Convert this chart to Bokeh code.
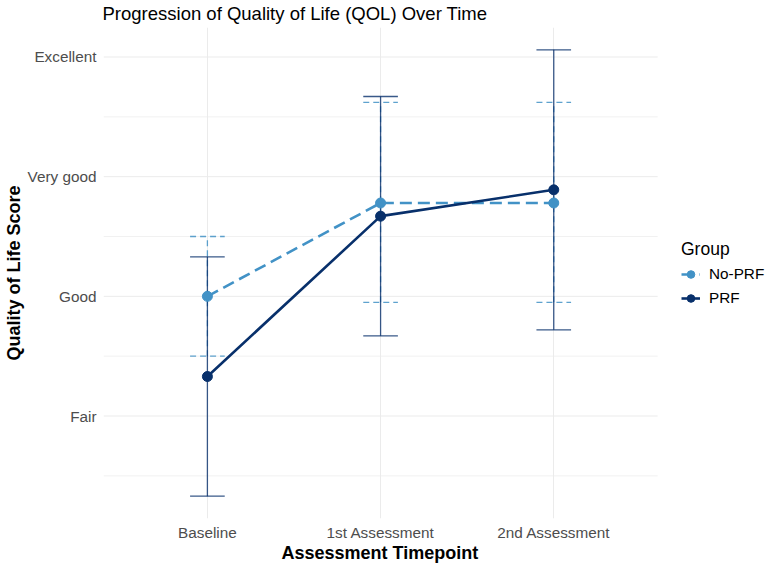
from bokeh.plotting import figure
from bokeh.models import FixedTicker, Range1d, Legend, LegendItem, Title
from bokeh.embed import file_html
from bokeh.resources import INLINE

# Assessment timepoints (x) and the ordinal QOL scale (y)
timepoints = ["Baseline", "1st Assessment", "2nd Assessment"]
tp_pos = [1, 2, 3]
score_levels = [2, 3, 4, 5]
score_labels = ["Fair", "Good", "Very good", "Excellent"]
minor_levels = [1.5, 2.5, 3.5, 4.5]

# Group means with lower / upper error-bar limits
no_prf_mean = [3.00, 3.78, 3.78]
no_prf_low = [2.50, 2.95, 2.95]
no_prf_high = [3.50, 4.62, 4.62]

prf_mean = [2.33, 3.67, 3.89]
prf_low = [1.33, 2.67, 2.72]
prf_high = [3.33, 4.67, 5.06]

NO_PRF_COLOR = "#4292C6"
PRF_COLOR = "#08306B"
GRID_COLOR = "#ebebeb"
FONT = "Liberation Sans"

W, H = 767, 564
LEFT, TOP, BOTTOM = 102, 27, 46
PANEL_W = 555                      # width of the gridded panel, px

# Discrete x scale with 0.6 units of padding; the frame runs on to the
# right edge so the legend can sit beside the gridded panel.
x_lo, x_hi = 0.4, 3.6
x_end = x_lo + (x_hi - x_lo) * (W - LEFT) / PANEL_W

lo = min(no_prf_low + prf_low)
hi = max(no_prf_high + prf_high)
pad = 0.05 * (hi - lo)

p = figure(
    width=W, height=H,
    x_range=Range1d(x_lo, x_end),
    y_range=Range1d(lo - pad, hi + pad),
    output_backend="svg", toolbar_location=None,
    min_border_left=LEFT, min_border_right=0,
    min_border_top=TOP, min_border_bottom=BOTTOM,
    title="Progression of Quality of Life (QOL) Over Time",
)
p.outline_line_color = None
p.background_fill_color = "white"

# Title
p.title.text_font = FONT
p.title.text_font_size = "18.5px"
p.title.text_font_style = "normal"
p.title.text_color = "black"
p.title.standoff = 4
p.title.vertical_align = "top"
p.title.offset = -1

# Axes
for ax in (p.xaxis[0], p.yaxis[0]):
    ax.axis_line_color = None
    ax.major_tick_line_color = None
    ax.minor_tick_line_color = None
    ax.major_tick_out = 0
    ax.major_tick_in = 0
    ax.minor_tick_out = 0
    ax.minor_tick_in = 0
    ax.major_label_text_font = FONT
    ax.major_label_text_font_size = "15.3px"
    ax.major_label_text_color = "#4d4d4d"
    ax.axis_label_text_font = FONT
    ax.axis_label_text_font_size = "18px"
    ax.axis_label_text_font_style = "bold"
    ax.axis_label_text_color = "black"

p.xaxis.ticker = FixedTicker(ticks=tp_pos)
p.xaxis.major_label_overrides = {t: lab for t, lab in zip(tp_pos, timepoints)}
p.xaxis.major_label_standoff = 5

# x-axis title, centred under the gridded panel
x_title = Title(text="Assessment Timepoint", align="left", offset=178,
                standoff=-6, text_font=FONT, text_font_size="18px",
                text_font_style="bold", text_color="black")
p.add_layout(x_title, "below")

p.yaxis.ticker = FixedTicker(ticks=score_levels, minor_ticks=minor_levels)
p.yaxis.major_label_overrides = {t: lab for t, lab in zip(score_levels, score_labels)}
p.yaxis.axis_label = "Quality of Life Score"
p.yaxis.major_label_standoff = 7
p.yaxis.axis_label_standoff = 1

# Grid: vertical lines at the timepoints, horizontal lines only across the panel
p.xgrid.grid_line_color = GRID_COLOR
p.xgrid.grid_line_width = 1
p.ygrid.grid_line_color = None
p.ygrid.minor_grid_line_color = None
p.segment(x0=x_lo, y0=score_levels, x1=x_hi, y1=score_levels,
          line_color=GRID_COLOR, line_width=1, level="underlay")
p.segment(x0=x_lo, y0=minor_levels, x1=x_hi, y1=minor_levels,
          line_color=GRID_COLOR, line_width=0.7, level="underlay")

CAP = 0.1

def error_bars(mean_low, mean_high, color, dash, alpha):
    p.segment(tp_pos, mean_low, tp_pos, mean_high, line_color=color,
              line_width=1.3, line_dash=dash, line_alpha=alpha)
    xs0 = [x - CAP for x in tp_pos]
    xs1 = [x + CAP for x in tp_pos]
    p.segment(xs0, mean_high, xs1, mean_high, line_color=color,
              line_width=1.3, line_dash=dash, line_alpha=alpha)
    p.segment(xs0, mean_low, xs1, mean_low, line_color=color,
              line_width=1.3, line_dash=dash, line_alpha=alpha)

error_bars(no_prf_low, no_prf_high, NO_PRF_COLOR, "6 4", 0.85)
error_bars(prf_low, prf_high, PRF_COLOR, "solid", 0.8)

line_no = p.line(tp_pos, no_prf_mean, line_color=NO_PRF_COLOR, line_width=2.6,
                 line_dash="12 6")
line_prf = p.line(tp_pos, prf_mean, line_color=PRF_COLOR, line_width=2.6)
pts_no = p.scatter(tp_pos, no_prf_mean, size=10, fill_color=NO_PRF_COLOR,
                   line_color=NO_PRF_COLOR)
pts_prf = p.scatter(tp_pos, prf_mean, size=10, fill_color=PRF_COLOR,
                    line_color=PRF_COLOR)

legend = Legend(
    items=[LegendItem(label="No-PRF", renderers=[line_no, pts_no]),
           LegendItem(label="PRF", renderers=[line_prf, pts_prf])],
    title="Group",
    location=(PANEL_W + 23, 210),
    padding=0, margin=0, spacing=4,
    glyph_width=19, glyph_height=20,
    label_standoff=9, title_standoff=4,
    border_line_color=None, background_fill_alpha=0,
    label_text_font=FONT, label_text_font_size="15.3px",
    label_text_color="black",
    title_text_font=FONT, title_text_font_size="17.5px",
    title_text_font_style="normal", title_text_color="black",
)
p.add_layout(legend)

open("out.html", "w").write(file_html(p, INLINE))
